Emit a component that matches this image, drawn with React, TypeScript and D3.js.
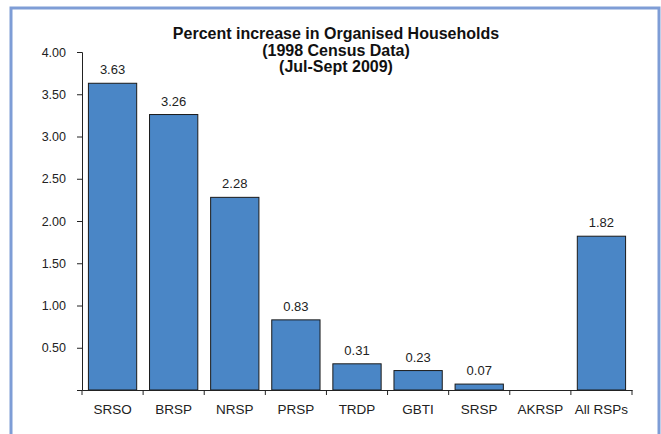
import { useEffect, useRef } from 'react';
import * as d3 from 'd3';

const categories = ['SRSO', 'BRSP', 'NRSP', 'PRSP', 'TRDP', 'GBTI', 'SRSP', 'AKRSP', 'All RSPs']
const values: (number | null)[] = [3.63, 3.26, 2.28, 0.83, 0.31, 0.23, 0.07, null, 1.82]
const yTicks = [0, 0.5, 1, 1.5, 2, 2.5, 3, 3.5, 4]
const titleLines = ['Percent increase in Organised Households', '(1998 Census Data)', '(Jul-Sept 2009)']

const W = 661
const H = 434
const plot = { left: 82, right: 632, top: 52, bottom: 390 }
const font = 'Arial, "Liberation Sans", sans-serif'

const App = () => {
  const ref = useRef<SVGSVGElement>(null)

  useEffect(() => {
    if (!ref.current) return
    const svg = d3.select(ref.current)
    svg.selectAll('*').remove()

    // frame
    svg.append('rect')
      .attr('x', 0).attr('y', 0).attr('width', W).attr('height', H)
      .attr('fill', '#fff')
    svg.append('rect')
      .attr('x', 11).attr('y', 8).attr('width', 648).attr('height', H + 10)
      .attr('fill', 'none').attr('stroke', '#7e9dd6').attr('stroke-width', 3)

    const x = d3.scaleBand()
      .domain(categories)
      .range([plot.left, plot.right])
      .paddingInner(0.21)
      .paddingOuter(0.105)

    const y = d3.scaleLinear().domain([0, 4]).range([plot.bottom, plot.top])

    // title
    const title = svg.append('text')
      .attr('text-anchor', 'middle')
      .attr('font-family', font)
      .attr('font-weight', 'bold')
      .attr('font-size', 16)
      .attr('fill', '#111')
    titleLines.forEach((t, i) => {
      title.append('tspan').attr('x', 336).attr('y', 39 + i * 16.5).text(t)
    })

    // bars
    const rows = categories.map((c, i) => ({ c, v: values[i] }))
    svg.selectAll('.bar')
      .data(rows.filter(d => d.v !== null && d.v > 0))
      .enter()
      .append('rect')
      .attr('class', 'bar')
      .attr('x', d => x(d.c)!)
      .attr('y', d => y(d.v!))
      .attr('width', x.bandwidth())
      .attr('height', d => y(0) - y(d.v!))
      .attr('fill', '#4a86c6')
      .attr('stroke', '#1a1a1a')
      .attr('stroke-width', 1)

    // value labels
    svg.selectAll('.val')
      .data(rows.filter(d => d.v !== null))
      .enter()
      .append('text')
      .attr('x', d => x(d.c)! + x.bandwidth() / 2)
      .attr('y', d => y(d.v!) - 9)
      .attr('text-anchor', 'middle')
      .attr('font-family', font)
      .attr('font-size', 13)
      .attr('fill', '#222')
      .text(d => d.v!.toFixed(2))

    // y axis
    const yAxis = d3.axisLeft(y)
      .tickValues(yTicks)
      .tickSize(5)
      .tickPadding(11)
      .tickFormat(d => (+d === 0 ? '' : d3.format('.2f')(+d)))
    const yg = svg.append('g').attr('transform', `translate(${plot.left},0)`).call(yAxis)
    yg.select('.domain').attr('stroke', '#222')
    yg.selectAll('line').attr('stroke', '#222')
    yg.selectAll('text').attr('font-family', font).attr('font-size', 12.5).attr('fill', '#222')

    // x axis
    const xAxis = d3.axisBottom(x).tickSize(0).tickPadding(14)
    const xg = svg.append('g').attr('transform', `translate(0,${plot.bottom})`).call(xAxis)
    xg.select('.domain').attr('stroke', '#222')
    xg.selectAll('text').attr('font-family', font).attr('font-size', 13.5).attr('fill', '#222')

    // x tick marks at band boundaries
    const bounds = d3.range(categories.length + 1).map(i => plot.left + i * x.step())
    svg.selectAll('.xtick')
      .data(bounds)
      .enter()
      .append('line')
      .attr('x1', d => d).attr('x2', d => d)
      .attr('y1', plot.bottom).attr('y2', plot.bottom + 5)
      .attr('stroke', '#222')
  }, [])

  return (
    <svg ref={ref} width={W} height={H} style={{ position: 'absolute', left: 0, top: 0 }} />
  )
}

export default App
